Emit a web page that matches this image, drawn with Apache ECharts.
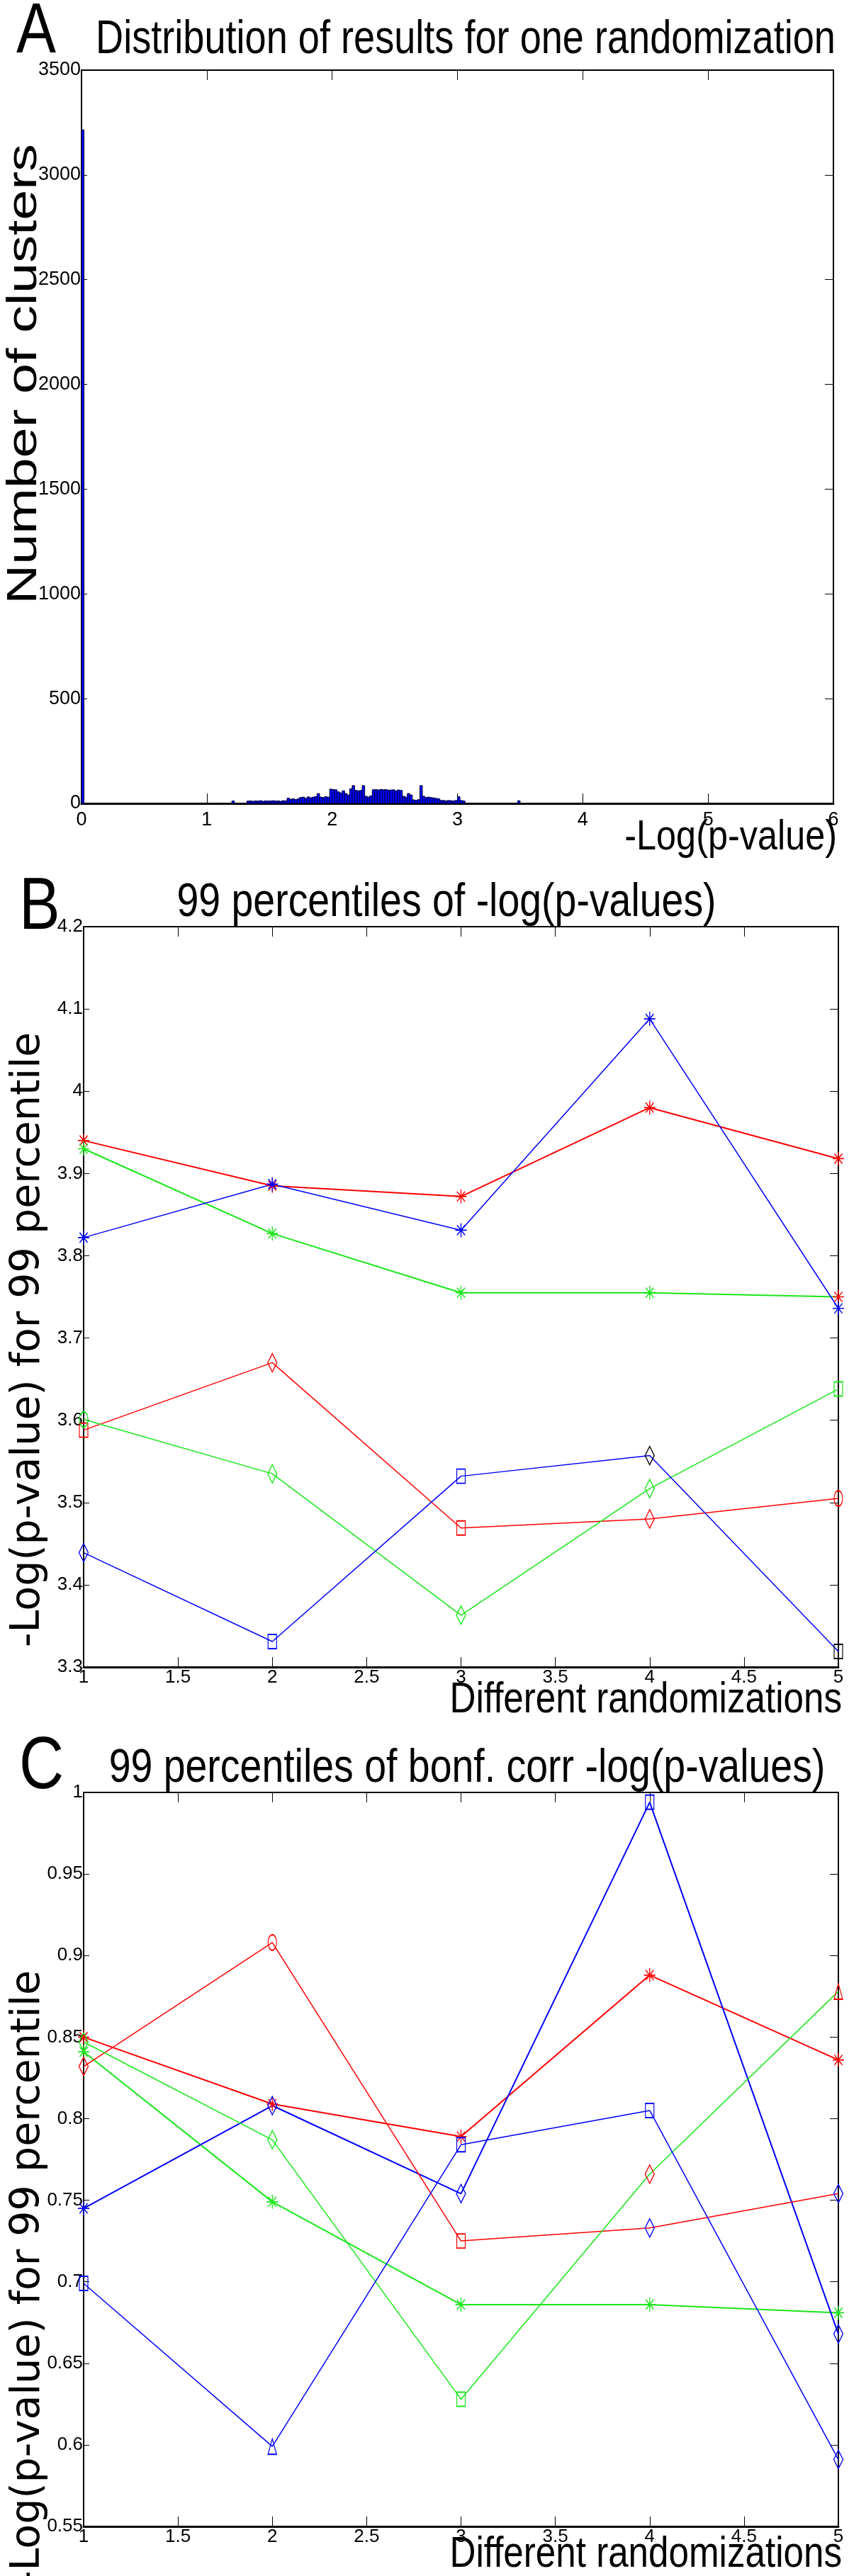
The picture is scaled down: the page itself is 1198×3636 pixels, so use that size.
<!DOCTYPE html>
<html>
<head>
<meta charset="utf-8">
<script src="https://cdn.jsdelivr.net/npm/echarts@6/dist/echarts.min.js"></script>
<style>
html,body{margin:0;padding:0;background:#fff;}
#chart{width:1198px;height:3636px;}
</style>
</head>
<body>
<div id="chart"></div>
<script>
// ---------- DATA ----------
// Panel A histogram (bins of width 0.02 starting at 1.20)
const histBinStart = 1.20;
const histBinWidth = 0.02;
const histCounts = [12,0,0,0,0,0, 11,12,10,12,11,13,10,12,11,12,13,11,12,10,13,12, 25, 20,22,18,22,
  28,30,24,31,27,30,33, 47, 30,28,32,30, 68,66, 65,55, 50,60, 47,40, 70,85, 62,60,62, 85,
  34,30,36, 65, 66,64,67,65,66,63, 64,65,60,64,62, 34,30, 47,40, 17,15,18, 85, 34,28,
  30,28,26,24,22,14, 14,12,14,13,12, 14,32, 14,12];
const extraBinLeft = [0.00, 3.48];
const extraBinCount = [3215, 13];
const histYTicks = [0, 500, 1000, 1500, 2000, 2500, 3000, 3500];

// Panel B: 99 percentiles of -log(p-values)
const randomizations = [1, 2, 3, 4, 5];
const bRedStar   = [3.940, 3.885, 3.872, 3.980, 3.918];
const bGreenStar = [3.930, 3.827, 3.755, 3.755, 3.750];
const bBlueStar  = [3.822, 3.887, 3.831, 4.088, 3.736];
const bRedOpen   = [3.588, 3.670, 3.469, 3.480, 3.505];
const bGreenOpen = [3.601, 3.535, 3.363, 3.517, 3.638];
const bBlueOpen  = [3.439, 3.331, 3.532, 3.557, 3.319];

// Panel C: 99 percentiles of bonf. corr -log(p-values)
const cRedStar   = [0.850, 0.809, 0.789, 0.888, 0.836];
const cGreenStar = [0.841, 0.749, 0.686, 0.686, 0.681];
const cBlueStar  = [0.745, 0.808, 0.754, 0.994, 0.668];
const cRedOpen   = [0.832, 0.908, 0.725, 0.733, 0.754];
const cGreenOpen = [0.847, 0.787, 0.628, 0.766, 0.878];
const cBlueOpen  = [0.699, 0.599, 0.784, 0.805, 0.591];

// ---------- STYLE ----------
const RED = '#ff0000', GREEN = '#19e619', BLUE = '#0000ff';
const SANS = "'Liberation Sans',Arial,sans-serif";
const ASTER = 'path://M5,0L5,10M0,5L10,5M1.5,1.5L8.5,8.5M1.5,8.5L8.5,1.5';

const GRIDS = [
  {left: 115, top: 99, width: 1061, height: 1035},
  {left: 118, top: 1308, width: 1065, height: 1045},
  {left: 118, top: 2530, width: 1065, height: 1036}
];

function axesFor(g, xr, yr, xLabMargin, labSize, yFmt) {
  const common = {gridIndex: g, type: 'value', splitLine: {show: false}};
  const lab = {show: true, color: '#000', fontFamily: SANS, fontSize: labSize,
    showMinLabel: true, showMaxLabel: true, hideOverlap: false};
  const xs = [
    Object.assign({}, common, {position: 'bottom', min: xr[0], max: xr[1], interval: xr[2],
      axisLine: {show: true, onZero: false, lineStyle: {color: '#000', width: 3}},
      axisTick: {show: true, inside: true, length: 14, lineStyle: {color: '#000', width: 1}},
      axisLabel: Object.assign({}, lab, {margin: xLabMargin, formatter: v => String(+v.toFixed(2))})}),
    Object.assign({}, common, {position: 'top', min: xr[0], max: xr[1], interval: xr[2],
      axisLine: {show: true, onZero: false, lineStyle: {color: '#000', width: 2}},
      axisTick: {show: true, inside: true, length: 14, lineStyle: {color: '#000', width: 1}},
      axisLabel: {show: false}})
  ];
  const ys = [
    Object.assign({}, common, {position: 'left', min: yr[0], max: yr[1], interval: yr[2],
      axisLine: {show: true, onZero: false, lineStyle: {color: '#000', width: 2}},
      axisTick: {show: true, inside: true, length: 8, lineStyle: {color: '#000', width: 1}},
      axisLabel: Object.assign({}, lab, {margin: 1, formatter: yFmt})}),
    Object.assign({}, common, {position: 'right', min: yr[0], max: yr[1], interval: yr[2],
      axisLine: {show: true, onZero: false, lineStyle: {color: '#000', width: 2}},
      axisTick: {show: true, inside: true, length: 12, lineStyle: {color: '#000', width: 1}},
      axisLabel: {show: false}})
  ];
  return {xs, ys};
}

const aAx = axesFor(0, [0, 6, 1], [histYTicks[0], histYTicks[histYTicks.length - 1], 500], 10, 27,
  v => String(Math.round(v)));
const bAx = axesFor(1, [1, 5, 0.5], [3.3, 4.2, 0.1], 2, 26, v => String(+v.toFixed(1)));
const cAx = axesFor(2, [1, 5, 0.5], [0.55, 1.0, 0.05], 2, 26, v => String(+v.toFixed(2)));

const xAxes = [aAx.xs[0], aAx.xs[1], bAx.xs[0], bAx.xs[1], cAx.xs[0], cAx.xs[1]];
const yAxes = [aAx.ys[0], aAx.ys[1], bAx.ys[0], bAx.ys[1], cAx.ys[0], cAx.ys[1]];

// histogram data rows [left, right, count]
const histRows = [];
extraBinLeft.forEach((l, i) => { if (l < 1) histRows.push([l, l + histBinWidth, extraBinCount[i]]); });
histCounts.forEach((c, i) => {
  const l = histBinStart + i * histBinWidth;
  if (c > 0) histRows.push([l, l + histBinWidth, c]);
});
extraBinLeft.forEach((l, i) => { if (l >= 1) histRows.push([l, l + histBinWidth, extraBinCount[i]]); });

function symItem(x, y, sym, override) {
  const it = {value: [x, y], symbol: sym === 'aster' ? ASTER : sym};
  if (override) it.itemStyle = {borderColor: override};
  return it;
}

function lineSeries(xi, yi, vals, color, syms, overrides, width) {
  const symSize = syms.map(s => s === 'aster' ? [16, 20] : (s === 'rect' ? [12, 20] : (s === 'circle' ? [12, 22] : (s === 'triangle' ? [12, 22] : [13, 26]))));
  return {
    type: 'line', xAxisIndex: xi, yAxisIndex: yi,
    data: randomizations.map((x, i) => symItem(x, vals[i], syms[i], overrides ? overrides[i] : null)),
    symbolSize: function (v, p) { return symSize[p.dataIndex]; },
    showAllSymbol: true,
    lineStyle: {color: color, width: width || 1.5},
    itemStyle: {color: 'rgba(255,255,255,0)', borderColor: color, borderWidth: 1.5},
    emphasis: {disabled: true},
    animation: false,
    z: 3
  };
}

const A = 'aster';
const series = [
  {
    type: 'custom', xAxisIndex: 0, yAxisIndex: 0,
    data: histRows,
    encode: {x: [0, 1], y: 2},
    renderItem: function (params, api) {
      const p0 = api.coord([api.value(0), api.value(2)]);
      const p1 = api.coord([api.value(1), 0]);
      return {
        type: 'rect',
        shape: {x: p0[0], y: p0[1], width: p1[0] - p0[0], height: p1[1] - p0[1]},
        style: {fill: '#0000ff', stroke: '#000033', lineWidth: 1}
      };
    },
    animation: false
  },
  // Panel B
  lineSeries(2, 2, bRedStar, RED, [A, A, A, A, A], null, 2),
  lineSeries(2, 2, bGreenStar, GREEN, [A, A, A, A, A], [null, null, null, null, RED], 2),
  lineSeries(2, 2, bBlueStar, BLUE, [A, A, A, A, A], null, 1.5),
  lineSeries(2, 2, bRedOpen, RED, ['rect', 'diamond', 'rect', 'diamond', 'circle'], null, 1.5),
  lineSeries(2, 2, bGreenOpen, GREEN, ['circle', 'diamond', 'diamond', 'diamond', 'rect'], null, 1.5),
  lineSeries(2, 2, bBlueOpen, BLUE, ['diamond', 'rect', 'rect', 'diamond', 'rect'], [null, null, null, '#000', '#000'], 1.5),
  // Panel C
  lineSeries(4, 4, cRedStar, RED, [A, A, A, A, A], null, 2),
  lineSeries(4, 4, cGreenStar, GREEN, [A, A, A, A, A], null, 2),
  lineSeries(4, 4, cBlueStar, BLUE, [A, 'diamond', 'diamond', 'rect', 'diamond'], null, 2),
  lineSeries(4, 4, cRedOpen, RED, ['diamond', 'circle', 'rect', 'diamond', 'diamond'], [null, null, null, BLUE, BLUE], 1.5),
  lineSeries(4, 4, cGreenOpen, GREEN, ['diamond', 'diamond', 'rect', 'diamond', 'triangle'], [null, null, null, RED, RED], 1.5),
  lineSeries(4, 4, cBlueOpen, BLUE, ['rect', 'triangle', 'rect', 'rect', 'diamond'], null, 1.5)
];

function txt(text, x, y, font, align, sx, rot) {
  return {
    type: 'text', x: x, y: y, rotation: rot || 0, scaleX: sx || 1, scaleY: 1, z: 100, silent: true,
    style: {text: text, font: font, fill: '#000', align: align || 'center', textAlign: align || 'center',
      verticalAlign: 'middle', textVerticalAlign: 'middle'}
  };
}

const graphics = [
  txt('A', 23, 46, '100px ' + SANS, 'left', 0.84),
  txt('Distribution of results for one randomization', 657, 57, '66px ' + SANS, 'center', 0.82),
  txt('-Log(p-value)', 1181, 1182, '60px ' + SANS, 'right', 0.84),
  txt('Number of clusters', 34, 528, '60px ' + SANS, 'center', 1.29, Math.PI / 2),

  txt('B', 27, 1283, '103px ' + SANS, 'left', 0.84),
  txt('99 percentiles of -log(p-values)', 630, 1275, '66px ' + SANS, 'center', 0.84),
  txt('Different randomizations', 1188, 2400, '62px ' + SANS, 'right', 0.825),
  txt('-Log(p-value) for 99 percentile', 40, 1891, "57px 'DejaVu Sans',sans-serif", 'center', 1, Math.PI / 2),

  txt('C', 27, 2495, '104px ' + SANS, 'left', 0.84),
  txt('99 percentiles of bonf. corr -log(p-values)', 659, 2497, '66px ' + SANS, 'center', 0.84),
  txt('Different randomizations', 1188, 3606, '62px ' + SANS, 'right', 0.825),
  txt('-Log(p-value) for 99 percentile', 40, 3215, "57px 'DejaVu Sans',sans-serif", 'center', 1, Math.PI / 2)
];

const chart = echarts.init(document.getElementById('chart'), null, {renderer: 'canvas'});
chart.setOption({
  backgroundColor: '#fff',
  animation: false,
  grid: GRIDS.map(g => Object.assign({containLabel: false}, g)),
  xAxis: xAxes,
  yAxis: yAxes,
  series: series,
  graphic: graphics
});
</script>
</body>
</html>
